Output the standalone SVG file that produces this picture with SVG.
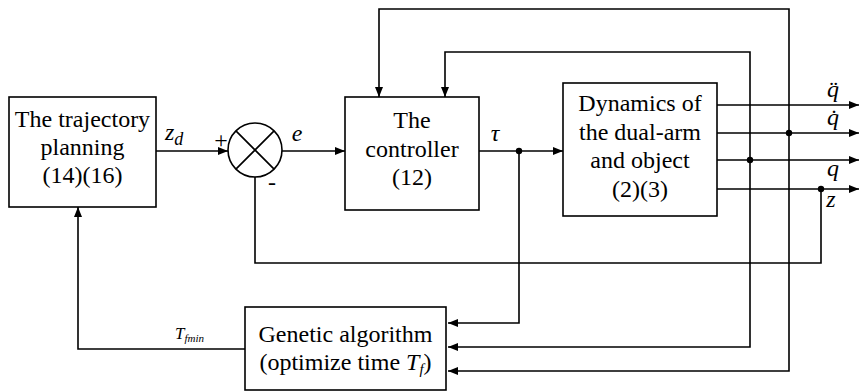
<svg xmlns="http://www.w3.org/2000/svg" width="860" height="392" viewBox="0 0 860 392">
<defs>
<style>
.box{fill:#fff;stroke:#000;stroke-width:1.6}
.t{font-family:'Liberation Serif','Times New Roman',serif;font-size:24px;fill:#000;text-anchor:middle}
.i{font-family:'Liberation Serif','Times New Roman',serif;font-style:italic;fill:#000}
.w{fill:none;stroke:#000;stroke-width:1.6}
</style>
<marker id="ah" viewBox="0 0 10 8" refX="10" refY="4" markerWidth="10" markerHeight="8" markerUnits="userSpaceOnUse" orient="auto">
<path d="M0,0 L10,4 L0,8 Z" fill="#000"/>
</marker>
</defs>
<rect width="860" height="392" fill="#fff"/>
<g id="connectors">
<path class="w" d="M156,151 H228" marker-end="url(#ah)"/>
<path class="w" d="M282,151 H345" marker-end="url(#ah)"/>
<path class="w" d="M479,151 H563" marker-end="url(#ah)"/>
<path class="w" d="M519,151 V323 H448" marker-end="url(#ah)"/>
<path class="w" d="M717,105 H859" marker-end="url(#ah)"/>
<path class="w" d="M717,133 H859" marker-end="url(#ah)"/>
<path class="w" d="M717,160 H859" marker-end="url(#ah)"/>
<path class="w" d="M717,189 H859" marker-end="url(#ah)"/>
<path class="w" d="M789,133 V9 H379 V97" marker-end="url(#ah)"/>
<path class="w" d="M789,133 V371 H448" marker-end="url(#ah)"/>
<path class="w" d="M750,160 V52 H445 V97" marker-end="url(#ah)"/>
<path class="w" d="M750,160 V347 H448" marker-end="url(#ah)"/>
<path class="w" d="M821,189 V263 H255 V177"/>
<path class="w" d="M245,349 H78 V207" marker-end="url(#ah)"/>
<circle cx="519" cy="151" r="3.2" fill="#000"/>
<circle cx="789" cy="133" r="3.2" fill="#000"/>
<circle cx="750" cy="160" r="3.2" fill="#000"/>
<circle cx="821" cy="189" r="3.2" fill="#000"/>
</g>
<g id="trajectory">
<rect class="box" x="9" y="97" width="147" height="110"/>
<text class="t" x="82.5" y="127">The trajectory</text>
<text class="t" x="82.5" y="155">planning</text>
<text class="t" x="82.5" y="183">(14)(16)</text>
</g>
<g id="sum">
<circle cx="255" cy="150" r="27" fill="#fff" stroke="#000" stroke-width="1.6"/>
<path class="w" d="M235.9,130.9 L274.1,169.1 M274.1,130.9 L235.9,169.1"/>
<text class="t" x="221" y="148" font-size="20">+</text>
<text class="t" x="272" y="190" font-size="20">-</text>
</g>
<g id="controller">
<rect class="box" x="345" y="97" width="134" height="113"/>
<text class="t" x="412" y="128">The</text>
<text class="t" x="412" y="157">controller</text>
<text class="t" x="412" y="185">(12)</text>
</g>
<g id="dynamics">
<rect class="box" x="563" y="83" width="154" height="133"/>
<text class="t" x="640" y="111">Dynamics of</text>
<text class="t" x="640" y="140">the dual-arm</text>
<text class="t" x="640" y="168">and object</text>
<text class="t" x="640" y="197">(2)(3)</text>
</g>
<g id="ga">
<rect class="box" x="245" y="307" width="201" height="83"/>
<text class="t" x="345.5" y="342">Genetic algorithm</text>
<text class="t" x="345.5" y="370">(optimize time <tspan font-style="italic">T</tspan><tspan font-style="italic" font-size="15" dy="4">f</tspan><tspan dy="-4">)</tspan></text>
</g>
<g id="labels">
<text class="i" x="165" y="140" font-size="24">z<tspan font-size="18" dy="5">d</tspan></text>
<text class="i" x="297" y="141" font-size="24" text-anchor="middle">e</text>
<text class="i" x="495" y="141" font-size="24" text-anchor="middle">τ</text>
<text class="i" x="833" y="97" font-size="24" text-anchor="middle">q̈</text>
<text class="i" x="833" y="125" font-size="24" text-anchor="middle">q̇</text>
<text class="i" x="833" y="176" font-size="24" text-anchor="middle">q</text>
<text class="i" x="831" y="207" font-size="24" text-anchor="middle">z</text>
<text class="i" x="175" y="339" font-size="17">T<tspan font-size="11" dy="3">fmin</tspan></text>
</g>
</svg>
